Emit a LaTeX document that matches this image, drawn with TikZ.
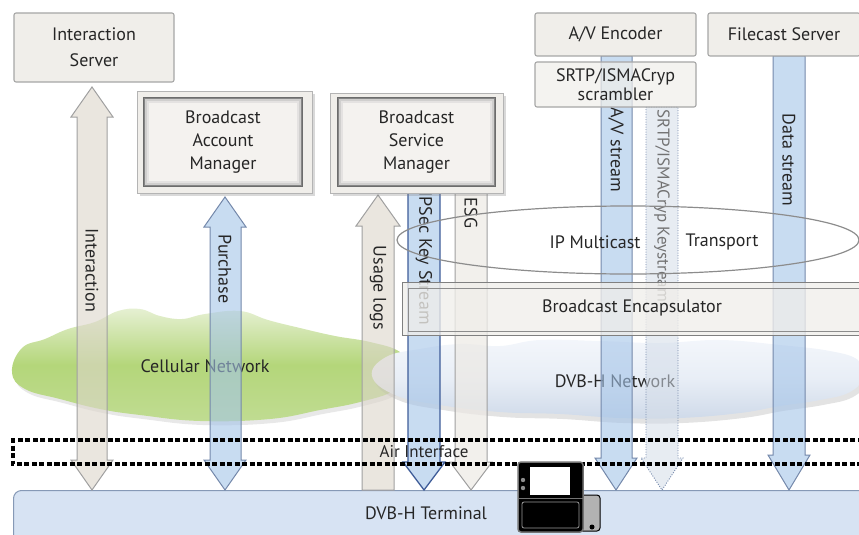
\documentclass[tikz,border=0pt]{standalone}
\usepackage{fontspec}
\setmainfont{PT Sans}
\usetikzlibrary{shadows,calc}

\definecolor{txt}{HTML}{262626}
\definecolor{boxfill}{HTML}{F0EEEA}
\definecolor{boxline}{HTML}{A6A6A6}
\definecolor{mgrline}{HTML}{B4B4B4}
\definecolor{mgrdark}{HTML}{6C6C6C}
\definecolor{mgrfill}{HTML}{F4F2EF}
\definecolor{bluefill}{HTML}{A4C4E8}
\definecolor{blueline}{HTML}{7488AA}
\definecolor{bluedark}{HTML}{3E5C98}
\definecolor{grayfill}{HTML}{DCD5CA}
\definecolor{grayline}{HTML}{A0A0A0}
\definecolor{esgfill}{HTML}{ECE9E4}
\definecolor{keyfill}{HTML}{D3DCE8}
\definecolor{termfill}{HTML}{D7E3F3}
\definecolor{termline}{HTML}{8699B6}
\definecolor{greentop}{HTML}{E6F0D3}
\definecolor{greenmid}{HTML}{B4D67A}
\definecolor{greenbot}{HTML}{C0DC92}
\definecolor{dvbtop}{HTML}{F3F6FB}
\definecolor{dvbmid}{HTML}{E8EEF6}
\definecolor{dvbbot}{HTML}{CFDAE9}

\tikzset{
  lbl/.style={font=\fontsize{18}{22}\selectfont, text=txt},
  srvbox/.style={lbl, draw=boxline, fill=boxfill, line width=1.1pt,
    rounded corners=2pt, inner sep=0pt, align=center},
  mgrouter/.style={draw=mgrline, fill=boxfill, line width=1pt, inner sep=0pt,
    drop shadow={shadow xshift=2.5pt, shadow yshift=-2.5pt, opacity=0.3}},
  mgrinner/.style={lbl, draw=mgrdark, fill=mgrfill, line width=1.6pt,
    inner sep=0pt, align=center, font=\fontsize{18}{23}\selectfont},
  glowa/.style={draw=black!35, line width=2.5pt, opacity=0.45},
  glowb/.style={draw=black!20, line width=2pt, opacity=0.4},
  grayflow/.style={draw=grayline, fill=grayfill, fill opacity=0.6, line width=1pt},
  esgflow/.style={draw=grayline, fill=esgfill, fill opacity=0.7, line width=1pt},
  blueflow/.style={draw=blueline, fill=bluefill, fill opacity=0.6, line width=1pt},
  ipsecflow/.style={draw=bluedark, fill=bluefill, fill opacity=0.6, line width=1.3pt},
  keyflow/.style={draw=blueline, fill=keyfill, fill opacity=0.55, line width=0.9pt,
    dash pattern=on 1pt off 1.5pt},
  airband/.style={draw=black, line width=3.6pt, dash pattern=on 5pt off 2.5pt},
}

\begin{document}
\begin{tikzpicture}[x=1pt, y=-1pt]
\useasboundingbox (0,0) rectangle (859,535);
\clip (0,0) rectangle (859,535);

% terminal bar at the bottom
\node[draw=termline, fill=termfill, line width=1pt, rounded corners=8pt,
      minimum width=880pt, minimum height=60pt, anchor=north west, inner sep=0pt] (term) at (13,490) {};
\node[lbl] (termtxt) at (426,513) {DVB-H Terminal};

% cellular network cloud
\path[draw=none, top color=greentop, bottom color=greenbot, middle color=greenmid,
      drop shadow={shadow xshift=3pt, shadow yshift=-4pt, opacity=0.18}]
  plot[smooth cycle, tension=0.7] coordinates {
   (12,372) (22,348) (45,339) (68,329) (95,322) (118,311) (140,309) (160,316)
   (182,319) (205,314) (240,311) (268,320) (300,328) (335,336) (370,342)
   (400,352) (410,370) (395,390) (360,402) (320,410) (270,419) (200,421)
   (140,415) (100,409) (60,399) (25,389)};
\node[lbl] (cell) at (205,366) {Cellular Network};

% DVB-H network cloud
\path[draw=none, top color=dvbtop, bottom color=dvbbot, middle color=dvbmid,
      drop shadow={shadow xshift=3pt, shadow yshift=-5pt, opacity=0.22}]
  plot[smooth cycle, tension=0.7] coordinates {
   (372,376) (386,357) (420,349) (460,344) (500,346) (540,340) (600,341)
   (660,343) (720,340) (780,345) (830,351) (858,360) (864,376) (850,392)
   (820,400) (780,406) (740,413) (680,418) (620,418) (560,414) (500,412)
   (440,405) (395,395)};
\node[lbl] (dvbnet) at (615,381) {DVB-H Network};

% flows
\filldraw[grayflow] (92,87) -- (113,117) -- (107,117) -- (107,460) -- (113,460)
  -- (92,490) -- (71,460) -- (77,460) -- (77,117) -- (71,117) -- cycle;
\filldraw[blueflow] (225,197) -- (246,227) -- (241,227) -- (241,460) -- (246,460)
  -- (225,490) -- (204,460) -- (210,460) -- (210,227) -- (204,227) -- cycle;
\filldraw[grayflow] (378,195) -- (400,226) -- (394,226) -- (394,490) -- (362,490)
  -- (362,226) -- (356,226) -- cycle;
\filldraw[ipsecflow] (408,193) -- (440,193) -- (440,462) -- (445,462) -- (424,490)
  -- (403,462) -- (408,462) -- cycle;
\filldraw[esgflow] (455,193) -- (487,193) -- (487,462) -- (492,462) -- (471,490)
  -- (450,462) -- (455,462) -- cycle;
\filldraw[blueflow] (601,56) -- (632,56) -- (632,458) -- (637,458) -- (616,490)
  -- (595,458) -- (601,458) -- cycle;
\filldraw[keyflow] (646,107) -- (678,107) -- (678,458) -- (683,458) -- (662,490)
  -- (641,458) -- (646,458) -- cycle;
\filldraw[blueflow] (773,56) -- (805,56) -- (805,455) -- (810,455) -- (789,490)
  -- (768,455) -- (773,455) -- cycle;

% flow labels
\node[lbl, rotate=-90] (linter) at (92,270) {Interaction};
\node[lbl, rotate=-90] (lpurch) at (225,269) {Purchase};
\node[lbl, rotate=-90] (lusage) at (378,288) {Usage logs};
\node[lbl, rotate=-90] (lipsec) at (424,258) {IPSec Key Stream};
\node[lbl, rotate=-90] (lesg) at (471,213) {ESG};
\node[lbl, rotate=-90] (lav) at (616,150) {A/V stream};
\node[lbl, rotate=-90, text=black!55, font=\fontsize{17}{21}\selectfont] (lkey) at (662,206) {SRTP/ISMACryp Keystream};
\node[lbl, rotate=-90] (ldata) at (789,160) {Data stream};

% servers and managers
\node[srvbox, minimum width=160pt, minimum height=69pt,
      font=\fontsize{18}{26}\selectfont] (isrv) at (94,47.5) {Interaction\\Server};
\node[srvbox, minimum width=161pt, minimum height=43pt] (avenc) at (615.5,34.5) {A/V Encoder};
\node[srvbox, fill opacity=0.72, text opacity=1, minimum width=161pt, minimum height=45pt,
      font=\fontsize{18}{19}\selectfont] (scram) at (615.5,84.5) {SRTP/ISMACryp\\scrambler};
\node[srvbox, minimum width=152pt, minimum height=43pt] (fsrv) at (784,34.5) {Filecast Server};

\node[mgrouter, minimum width=175pt, minimum height=102pt] (bamo) at (224.5,142) {};
\node[mgrinner, minimum width=158pt, minimum height=88pt] (bam) at (223,142) {Broadcast\\Account\\Manager};
\draw[glowa] ($(bam.north west)+(2.5,2.5)$) rectangle ($(bam.south east)+(-2.5,-2.5)$);
\draw[glowb] ($(bam.north west)+(5,5)$) rectangle ($(bam.south east)+(-5,-5)$);

\node[mgrouter, minimum width=173pt, minimum height=100pt] (bsmo) at (416.5,143) {};
\node[mgrinner, minimum width=157pt, minimum height=88pt] (bsm) at (416.5,142) {Broadcast\\Service\\Manager};
\draw[glowa] ($(bsm.north west)+(2.5,2.5)$) rectangle ($(bsm.south east)+(-2.5,-2.5)$);
\draw[glowb] ($(bsm.north west)+(5,5)$) rectangle ($(bsm.south east)+(-5,-5)$);

% IP multicast transport
\draw[draw=black!45, line width=1.2pt] (628,240) ellipse [x radius=231, y radius=34];
\node[lbl] (ipm) at (595,242) {IP Multicast};
\node[lbl] (tra) at (722,242) {Transport};

% broadcast encapsulator
\node[draw=black!50, fill=boxfill, fill opacity=0.78, line width=1.2pt, inner sep=0pt,
      minimum width=460pt, minimum height=53pt, anchor=north west] (encap) at (402,282) {};
\draw[black!45, line width=1pt] ($(encap.north west)+(6,6)$) rectangle ($(encap.south east)+(-4,-5)$);
\node[lbl] (encaptxt) at (632,308) {Broadcast Encapsulator};

% air interface band
\draw[airband] (870,440) -- (13,440) -- (13,464) -- (870,464);
\node[lbl, font=\fontsize{17}{20}\selectfont] (air) at (424,452) {Air Interface};

% handheld terminal
\draw[fill=black!30, draw=black, line width=1pt, rounded corners=3pt] (580,495) rectangle (600,531);
\fill[black] (592,527) circle (2.5);
\draw[fill=black, draw=black!55, line width=1.5pt, rounded corners=3pt] (518,462) rectangle (583,532);
\fill[white] (530,467) rectangle (570,495);
\fill[black!45] (523,480) circle (2.2);
\fill[black!45] (523,488) circle (2.2);
\draw[black!55, line width=1pt] (518,498) -- (583,498);
\draw[black!40, line width=0.8pt, rounded corners=2pt] (522,502) rectangle (579,528);
\end{tikzpicture}
\end{document}
